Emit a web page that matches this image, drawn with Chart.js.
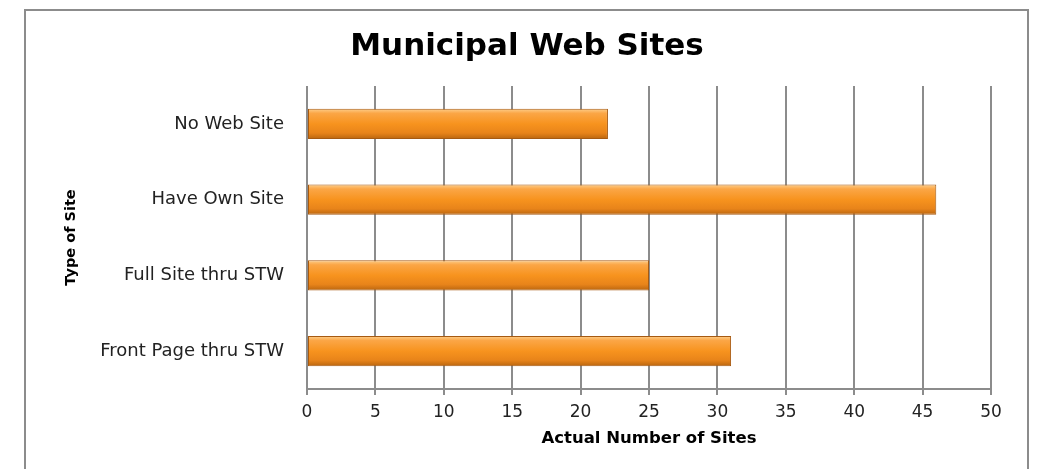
<!DOCTYPE html>
<html>
<head>
<meta charset="utf-8">
<script src="https://cdn.jsdelivr.net/npm/chart.js@4/dist/chart.umd.min.js"></script>
<style>
    html, body { margin: 0; padding: 0; background: #fff; }
    #wrap { position: relative; width: 1038px; height: 469px; overflow: hidden; }
    #frame {
        position: absolute; left: 24px; top: 9px; width: 1005px; height: 480px;
        border: 2px solid #8c8c8c; box-sizing: border-box; pointer-events: none;
    }
    canvas { position: absolute; left: 0; top: 0; }
</style>
</head>
<body>
<div id="wrap">
    <canvas id="myChart" width="1038" height="469"></canvas>
    <div id="frame"></div>
</div>
<script>
const categories = ['No Web Site', 'Have Own Site', 'Full Site thru STW', 'Front Page thru STW'];
const siteCounts = [22, 46, 25, 31];
const xTicks = [0, 5, 10, 15, 20, 25, 30, 35, 40, 45, 50];

const fontFamily = '"DejaVu Sans", "Open Sans", sans-serif';

// vertical shading for each bar, worked out from the category scale
function barGradient(context) {
    const chart = context.chart;
    const yScale = chart.scales && chart.scales.y;
    if (!chart.chartArea || !yScale || context.dataIndex === undefined) {
        return '#f7941d';
    }
    const center = yScale.getPixelForValue(context.dataIndex);
    const h = yScale.height / categories.length * 0.4;
    const top = center - h / 2;
    const g = chart.ctx.createLinearGradient(0, top, 0, top + h);
    g.addColorStop(0, '#fdd08e');
    g.addColorStop(0.15, '#fba646');
    g.addColorStop(0.5, '#f7931e');
    g.addColorStop(0.8, '#e8841a');
    g.addColorStop(1, '#b9650f');
    return g;
}

var ctx = document.getElementById('myChart').getContext('2d');
var chart = new Chart(ctx, {
    type: 'bar',
    data: {
        labels: categories,
        datasets: [{
            label: 'Actual Number of Sites',
            data: siteCounts,
            backgroundColor: barGradient,
            borderColor: '#a65a12',
            borderWidth: 1,
            borderSkipped: false,
            categoryPercentage: 0.8,
            barPercentage: 0.5
        }]
    },
    options: {
        indexAxis: 'y',
        responsive: false,
        animation: false,
        layout: {
            padding: { left: 63, right: 47, top: 10, bottom: 20 }
        },
        plugins: {
            legend: { display: false },
            tooltip: { enabled: false },
            title: {
                display: true,
                text: 'Municipal Web Sites',
                color: '#000',
                font: { family: fontFamily, size: 31, weight: 'bold', lineHeight: 1.2 },
                padding: { top: 18, bottom: 20.8 }
            }
        },
        scales: {
            x: {
                min: 0,
                max: 50,
                afterBuildTicks: function(scale) {
                    scale.ticks = xTicks.map(v => ({ value: v }));
                },
                afterFit: function(scale) {
                    scale.height = 60;
                },
                grid: {
                    color: '#8c8c8c',
                    lineWidth: 2,
                    tickLength: 6,
                    drawTicks: true
                },
                border: { display: true, color: '#8c8c8c', width: 2 },
                ticks: {
                    color: '#222',
                    padding: 7,
                    font: { family: fontFamily, size: 17 }
                },
                title: {
                    display: true,
                    text: 'Actual Number of Sites',
                    color: '#000',
                    font: { family: fontFamily, size: 16.5, weight: 'bold', lineHeight: 1.2 },
                    padding: { top: 4, bottom: 0 }
                }
            },
            y: {
                afterFit: function(scale) {
                    scale.width = 244;
                },
                grid: { display: false, drawTicks: false },
                border: { display: false },
                ticks: {
                    color: '#222',
                    padding: 23,
                    font: { family: fontFamily, size: 18 }
                },
                title: {
                    display: true,
                    text: 'Type of Site',
                    color: '#000',
                    font: { family: fontFamily, size: 14.5, weight: 'bold', lineHeight: 1.2 },
                    padding: 0
                }
            }
        }
    }
});
</script>
</body>
</html>
